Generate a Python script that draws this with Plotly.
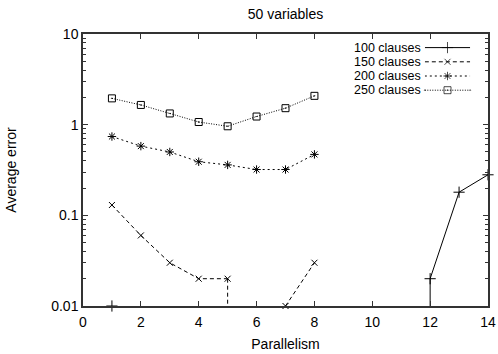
import plotly.graph_objects as go

parallelism = list(range(1, 15))
parallelism_short = list(range(1, 9))

clauses_100 = [0.01, 0, 0, 0, 0, 0, 0, 0, 0, 0, 0, 0.02, 0.18, 0.28]
clauses_150 = [0.13, 0.06, 0.03, 0.02, 0.02, 0, 0.01, 0.03]
clauses_200 = [0.74, 0.58, 0.50, 0.39, 0.36, 0.32, 0.32, 0.47]
clauses_250 = [1.95, 1.65, 1.33, 1.07, 0.96, 1.23, 1.52, 2.08]

series_names = ["100 clauses", "150 clauses", "200 clauses", "250 clauses"]
x_ticks = [0, 2, 4, 6, 8, 10, 12, 14]
y_ticks = [0.01, 0.1, 1, 10]
y_tick_text = ["0.01", "0.1", "1", "10"]

Y_MIN, Y_MAX = 0.01, 10
FONT = "Liberation Sans, Arial, Helvetica, sans-serif"
FS = 14
KEY_FS = 12.5

styles = [
    dict(dash="solid", symbol="cross-thin-open", size=8),
    dict(dash="4px,3px", symbol="x-thin-open", size=6),
    dict(dash="2px,3px", symbol="asterisk-open", size=7),
    dict(dash="1px,1.5px", symbol="square-open-dot", size=7),
]

fig = go.Figure()
all_series = [
    (parallelism, clauses_100),
    (parallelism_short, clauses_150),
    (parallelism_short, clauses_200),
    (parallelism_short, clauses_250),
]
for (xs, ys), name, st in zip(all_series, series_names, styles):
    # gnuplot-like drop lines where a neighbouring value is zero (undefined on log axis)
    dx, dy = [], []
    for i in range(len(xs) - 1):
        a, b = ys[i], ys[i + 1]
        if a > 0 and b <= 0:
            dx += [xs[i], xs[i], None]
            dy += [a, Y_MIN / 10, None]
        elif b > 0 and a <= 0:
            dx += [xs[i + 1], xs[i + 1], None]
            dy += [b, Y_MIN / 10, None]
    if dx:
        fig.add_trace(go.Scatter(x=dx, y=dy, mode="lines", showlegend=False,
                                 line=dict(color="black", width=1, dash=st["dash"]),
                                 hoverinfo="skip"))
    yv = [v if v > 0 else None for v in ys]
    fig.add_trace(go.Scatter(
        x=xs, y=yv, mode="lines+markers", name=name, connectgaps=False,
        cliponaxis=False, showlegend=False,
        line=dict(color="black", width=1, dash=st["dash"]),
        marker=dict(symbol=st["symbol"], size=st["size"], color="black",
                    line=dict(color="black", width=1)),
    ))

# gnuplot-style key: label on the left, sample line with marker on the right
KEY_X0, KEY_X1 = 0.844, 0.956
KEY_TOP, KEY_STEP = 0.950, 0.0522
for i, (name, st) in enumerate(zip(series_names, styles)):
    ry = KEY_TOP - i * KEY_STEP
    fig.add_trace(go.Scatter(
        x=[0, 0.5, 1], y=[ry, ry, ry], xaxis="x2", yaxis="y2", mode="lines+markers",
        showlegend=False, hoverinfo="skip", cliponaxis=False,
        line=dict(color="black", width=1, dash=st["dash"]),
        marker=dict(symbol=st["symbol"], size=[0, st["size"], 0], color="black",
                    line=dict(color="black", width=1)),
    ))
    fig.add_annotation(x=0.835, y=ry, xref="paper", yref="paper",
                       text=name, showarrow=False, xanchor="right", yanchor="middle",
                       borderpad=0, borderwidth=0,
                       font=dict(family=FONT, size=KEY_FS, color="black"))

axis_common = dict(
    showline=True, linecolor="#333333", linewidth=1.5, mirror="ticks",
    ticks="inside", ticklen=5, tickcolor="#333333", tickwidth=1,
    showgrid=False, zeroline=False,
    tickfont=dict(family=FONT, size=FS, color="black"),
)

fig.update_xaxes(range=[0, 14], tickvals=x_ticks, ticklabelstandoff=2,
                 title=dict(text="Parallelism", font=dict(family=FONT, size=FS, color="black"), standoff=11),
                 **axis_common)
minor_vals = [m * 10 ** e for e in (-2, -1, 0) for m in range(2, 10)]
fig.update_yaxes(type="log", range=[-2, 1], tickvals=y_ticks, ticktext=y_tick_text,
                 minor=dict(tickvals=minor_vals, ticks="inside", ticklen=3,
                            tickcolor="#333333", tickwidth=1, showgrid=False),
                 title=dict(text="Average error", font=dict(family=FONT, size=FS, color="black"), standoff=31),
                 **axis_common)

fig.update_layout(
    width=498, height=354,
    margin=dict(l=83, r=10, t=34, b=48, autoexpand=False),
    paper_bgcolor="white", plot_bgcolor="rgba(0,0,0,0)",
    font=dict(family=FONT, size=FS, color="black"),
    title=dict(text="50 variables", x=0.5, xref="paper", y=1 - 14 / 354, yref="container",
               yanchor="middle", font=dict(family=FONT, size=FS, color="black")),
    xaxis2=dict(domain=[KEY_X0, KEY_X1], range=[0, 1], visible=False, anchor="y2", fixedrange=True),
    yaxis2=dict(domain=[0, 1], range=[0, 1], visible=False, anchor="x2", fixedrange=True),
)

fig.write_html("out.html")
